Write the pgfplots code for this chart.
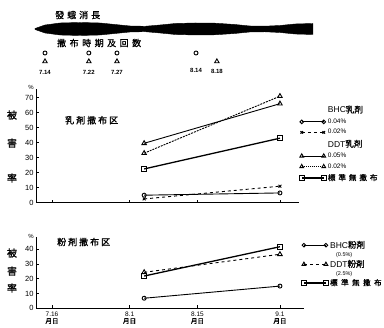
\documentclass[border=0pt]{standalone}
\usepackage{pgfplots}
\pgfplotsset{compat=1.18}
\usepackage{fontspec}
\setmainfont{Liberation Sans}
\newfontfamily\cjk{Noto Sans CJK JP}[FakeBold=1.2]
\newcommand\s{\hspace{2pt}}
\newcommand\sw{\hspace{3pt}}
\newcommand\sx{\hspace{3.5pt}}
\pgfplotsset{
  panel/.style={
    anchor=south west, x=4.85pt, xmin=-3.3, ymin=0,
    axis lines=left, axis line style={-, line width=0.9pt},
    tick align=inside, major tick length=3pt,
    tick style={line width=0.7pt, black},
    xtick={0,16,30,47}, clip=false,
    /pgf/number format/assume math mode=true,
    yticklabel style={font=\fontsize{7.5}{8}\selectfont, xshift=1pt},
    legend image code/.code={\draw[mark repeat=2,mark phase=1,##1] plot coordinates {(0pt,0pt)(11pt,0pt)(22pt,0pt)};},
    legend style={draw=none, fill=none, inner sep=0pt, font=\fontsize{6.5}{7}\selectfont, row sep=0.5pt,
      /tikz/every even column/.append style={column sep=2pt}},
    legend cell align=left,
  },
}
\begin{document}
\begin{tikzpicture}
\path[use as bounding box] (0,0) rectangle (384pt,328pt);
% ---------- moth emergence band and spray dates
\begin{axis}[at={(35pt,248pt)}, anchor=south west, x=4.85pt, y=1pt,
  xmin=-3.5, xmax=54, ymin=-80, ymax=-10, hide axis, clip=false]
\addplot[fill=black, draw=black, line width=0.4pt] coordinates {
(-3.5,-28.5) (-1.44,-25) (1.65,-23) (5.77,-22.5) (9.9,-23) (13,-24.5) (16.1,-26) (19.2,-26.3) (22.3,-25) (25.4,-23.5) (29.5,-23) (33.6,-23.2) (37.7,-24.5) (40.8,-26) (43.9,-26.2) (47,-25.5) (50.1,-24) (53.8,-23.5)
(53.8,-34.5) (50.1,-34) (47,-32.5) (43.9,-31.8) (40.8,-32) (37.7,-33.5) (33.6,-34.8) (29.5,-35) (25.4,-34.5) (22.3,-33) (19.2,-31.7) (16.1,-32) (13,-33.5) (9.9,-35) (5.77,-35.5) (1.65,-35) (-1.44,-33) (-3.5,-29.5)
} -- cycle;
\addplot[only marks, mark=o, mark size=2pt, line width=0.9pt] coordinates {(-1.44,-53) (7.6,-53) (13.4,-53) (29.7,-53)};
\addplot[only marks, mark=triangle, mark size=2.6pt, line width=0.9pt] coordinates {(-1.44,-61.5) (7.6,-61.5) (13.4,-61.5) (34,-61.5)};
\node[font=\fontsize{6}{6}\selectfont\bfseries] at (axis cs:-1.44,-72) {7.14};
\node[font=\fontsize{6}{6}\selectfont\bfseries] at (axis cs:7.6,-72) {7.22};
\node[font=\fontsize{6}{6}\selectfont\bfseries] at (axis cs:13.4,-72) {7.27};
\node[font=\fontsize{6}{6}\selectfont\bfseries] at (axis cs:29.7,-70.5) {8.14};
\node[font=\fontsize{6}{6}\selectfont\bfseries] at (axis cs:34,-71.5) {8.18};
\node[font=\cjk\fontsize{9}{9}\selectfont, anchor=west, inner sep=0pt] at (axis cs:0.62,-15) {發\sw 蛾\sw 消\sw 長};
\node[font=\cjk\fontsize{9}{9}\selectfont, anchor=west, inner sep=0pt] at (axis cs:1.03,-43) {撒\sx 布\sx 時\sx 期\sx 及\sx 回\sx 数};
\end{axis}
% ---------- emulsion panel
\begin{axis}[panel, at={(36pt,125.3pt)}, y=1.5pt, xmax=51, ymax=76,
  ytick={0,10,...,70}, xticklabels={},
  legend style={at={(1.0,0.87)}, anchor=north west}]
\addplot[line width=0.9pt, mark=o, mark size=2pt, mark options={solid, fill=white}, forget plot] coordinates {(19,5) (47,6.5)};
\addplot[line width=0.9pt, dashed, mark=x, mark size=2pt, mark options={solid}, forget plot] coordinates {(19,2.5) (47,11)};
\addplot[line width=0.9pt, mark=triangle, mark size=2.6pt, mark options={solid, fill=white}, forget plot] coordinates {(19,39.6) (47,66)};
\addplot[line width=0.9pt, dash pattern=on 2pt off 1pt, mark=triangle, mark size=2.6pt, mark options={solid, fill=white}, forget plot] coordinates {(19,33) (47,71)};
\addplot[line width=1.3pt, mark=square, mark size=2.5pt, mark options={solid, fill=white, line width=1pt}, forget plot] coordinates {(19,22.5) (47,43)};
\addlegendimage{empty legend}\addlegendentry{\fontsize{8.5}{9}\selectfont BHC{\cjk 乳剤}}
\addlegendimage{line width=0.9pt, mark=o, mark size=1.8pt, mark options={solid, fill=white}}\addlegendentry{0.04\%}
\addlegendimage{line width=0.9pt, dashed, mark=x, mark size=1.8pt, mark options={solid}}\addlegendentry{0.02\%}
\addlegendimage{empty legend}\addlegendentry{\fontsize{8.5}{9}\selectfont DDT{\cjk 乳剤}}
\addlegendimage{line width=0.9pt, mark=triangle, mark size=2.2pt, mark options={solid, fill=white}}\addlegendentry{0.05\%}
\addlegendimage{line width=0.9pt, dash pattern=on 1pt off 1pt, mark=triangle, mark size=2.2pt, mark options={solid, fill=white}}\addlegendentry{0.02\%}
\addlegendimage{line width=1.1pt, mark=square, mark size=2.2pt, mark options={solid, fill=white, line width=0.9pt}}\addlegendentry{{\cjk\fontsize{7.5}{8}\selectfont 標\sw 準\sw 無\sw 撒\sw 布}}
\node[font=\cjk\fontsize{9}{9}\selectfont, anchor=west, inner sep=0pt] at (axis cs:2.68,55) {乳\s 剤\s 撒\s 布\s 区};
\end{axis}
\node[font=\fontsize{6}{6}\selectfont] at (31pt,241pt) {\%};
\node[font=\cjk\fontsize{10}{10}\selectfont] at (12pt,213pt) {被};
\node[font=\cjk\fontsize{10}{10}\selectfont] at (12pt,185pt) {害};
\node[font=\cjk\fontsize{10}{10}\selectfont] at (12pt,150pt) {率};
% ---------- dust panel
\begin{axis}[panel, at={(36pt,19.7pt)}, y=1.48pt, xmax=52, ymax=48,
  ytick={0,10,...,40},
  xticklabels={{7.16\\{\cjk 月日}},{8.1\\{\cjk 月日}},{8.15\\{\cjk 月日}},{9.1\\{\cjk 月日}}},
  xticklabel style={align=center, font=\fontsize{6.5}{7}\selectfont},
  legend style={at={(0.99,0.98)}, anchor=north west, row sep=-1.5pt}]
\addplot[line width=0.9pt, mark=o, mark size=2pt, mark options={solid, fill=white}, forget plot] coordinates {(19,6.8) (47,15)};
\addplot[line width=0.9pt, dashed, mark=triangle, mark size=2.6pt, mark options={solid, fill=white}, forget plot] coordinates {(19,24.3) (47,36.5)};
\addplot[line width=1.3pt, mark=square, mark size=2.5pt, mark options={solid, fill=white, line width=1pt}, forget plot] coordinates {(19,21.8) (47,41.6)};
\addlegendimage{line width=0.9pt, mark=o, mark size=1.8pt, mark options={solid, fill=white}}\addlegendentry{\fontsize{8.5}{9}\selectfont BHC{\cjk 粉剤}}
\addlegendimage{empty legend}\addlegendentry{\hspace{6pt}\fontsize{5.5}{5.5}\selectfont (0.5\%)}
\addlegendimage{line width=0.9pt, dashed, mark=triangle, mark size=2.2pt, mark options={solid, fill=white}}\addlegendentry{\fontsize{8.5}{9}\selectfont DDT{\cjk 粉剤}}
\addlegendimage{empty legend}\addlegendentry{\hspace{6pt}\fontsize{5.5}{5.5}\selectfont (2.5\%)}
\addlegendimage{line width=1.1pt, mark=square, mark size=2.2pt, mark options={solid, fill=white, line width=0.9pt}}\addlegendentry{{\cjk\fontsize{7.5}{8}\selectfont 標\sx 準\sx 無\sx 撒\sx 布}}
\node[font=\cjk\fontsize{9}{9}\selectfont, anchor=west, inner sep=0pt] at (axis cs:1.03,44.8) {粉\s 剤\s 撒\s 布\s 区};
\end{axis}
\node[font=\fontsize{6}{6}\selectfont] at (31pt,92pt) {\%};
\node[font=\cjk\fontsize{10}{10}\selectfont] at (12pt,75pt) {被};
\node[font=\cjk\fontsize{10}{10}\selectfont] at (12pt,57pt) {害};
\node[font=\cjk\fontsize{10}{10}\selectfont] at (12pt,40pt) {率};
\end{tikzpicture}
\end{document}
